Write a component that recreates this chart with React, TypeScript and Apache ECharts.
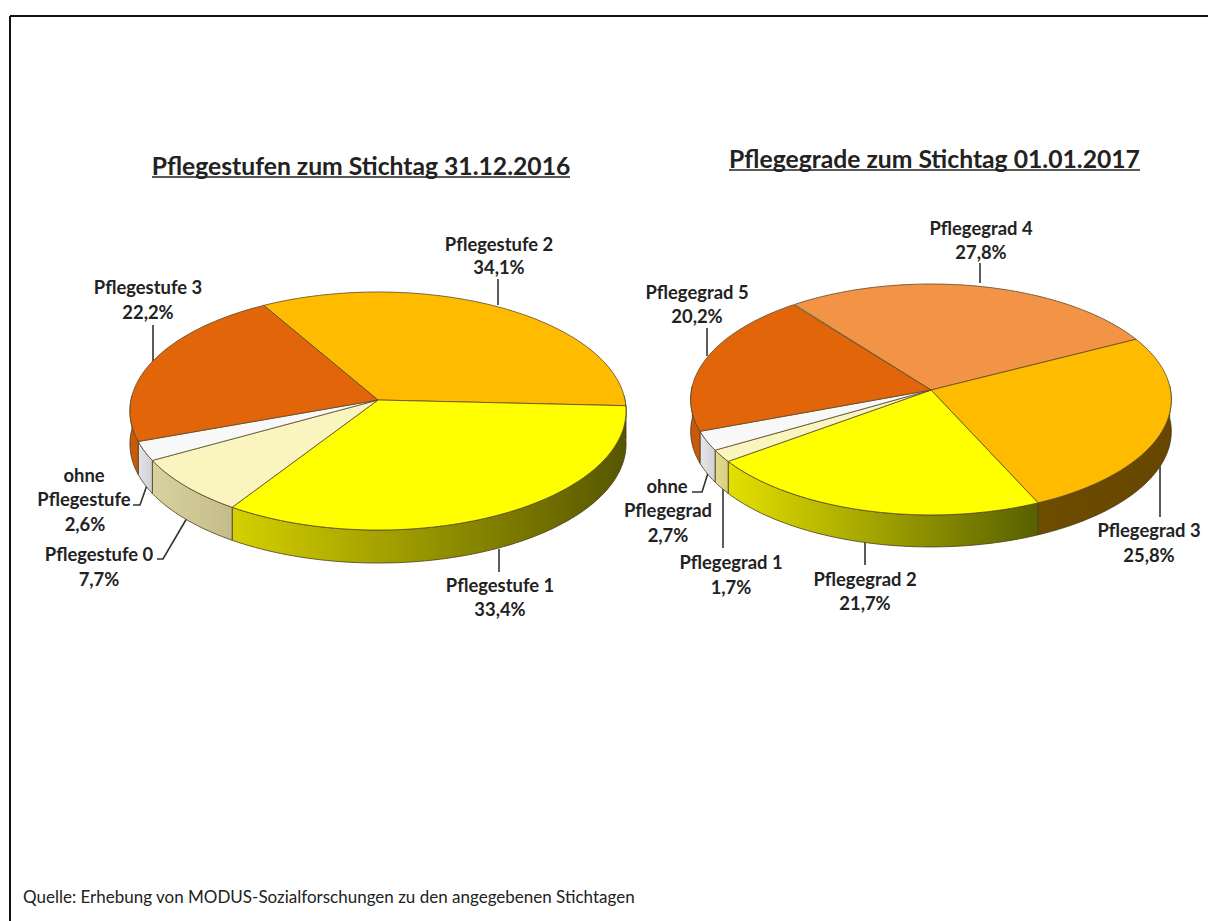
import React, { useEffect, useRef } from "react";
import * as echarts from "echarts";

const stufenValues = [34.1, 33.4, 7.7, 2.6, 22.2];
const gradeValues = [27.8, 25.8, 21.7, 1.7, 2.7, 20.2];
const stufenTopColors = ["#FFBB00", "#FFFF00", "#FAF5BE", "#F8F8F8", "#E2650A"];
const gradeTopColors = ["#F29345", "#FFBB00", "#FFFF00", "#FAF5BE", "#F8F8F8", "#E2650A"];
const stufenWallColors = [
  ["#6b4e00", "#6b4e00"],
  ["#D4D000", "#565600"],
  ["#D8D2A0", "#C4BC88"],
  ["#E4E4E8", "#CFCFD4"],
  ["#C85A0A", "#C85A0A"],
];
const gradeWallColors = [
  ["#8a5020", "#8a5020"],
  ["#6E4C00", "#664600"],
  ["#E4E000", "#586000"],
  ["#E2DA8E", "#D8D07E"],
  ["#E6E6EA", "#D2D2D6"],
  ["#C85A0A", "#C85A0A"],
];

const stufenGeometry = { hubX: 378, hubY: 400, rx: 247, ry: 118, persp: 0.0925, depth: 33, start: -30 };
const gradeGeometry = { hubX: 931, hubY: 390, rx: 239.5, ry: 114.7, persp: 0.082, depth: 32, start: -37.4 };

const titleStufen = "Pflegestufen zum Stichtag 31.12.2016";
const titleGrade = "Pflegegrade zum Stichtag 01.01.2017";
const sourceNote = "Quelle: Erhebung von MODUS-Sozialforschungen zu den angegebenen Stichtagen";

const pct = (v: number) => v.toFixed(1).replace(".", ",") + "%";

// text lines: [text, centre x, centre y]
const stufenLabels: [string, number, number][] = [
  ["Pflegestufe 2", 499, 244], [pct(stufenValues[0]), 499, 267],
  ["Pflegestufe 1", 500, 585], [pct(stufenValues[1]), 500, 609],
  ["Pflegestufe 0", 99, 554], [pct(stufenValues[2]), 99, 579],
  ["ohne", 84, 475], ["Pflegestufe", 84, 499], [pct(stufenValues[3]), 85, 524],
  ["Pflegestufe 3", 148, 287], [pct(stufenValues[4]), 148, 312],
];
const gradeLabels: [string, number, number][] = [
  ["Pflegegrad 4", 981, 228], [pct(gradeValues[0]), 981, 252],
  ["Pflegegrad 3", 1149, 530], [pct(gradeValues[1]), 1149, 555],
  ["Pflegegrad 2", 865, 579], [pct(gradeValues[2]), 865, 603],
  ["Pflegegrad 1", 731, 562], [pct(gradeValues[3]), 731, 587],
  ["ohne", 667, 486], ["Pflegegrad", 668, 510], [pct(gradeValues[4]), 668, 535],
  ["Pflegegrad 5", 697, 292], [pct(gradeValues[5]), 697, 316],
];
const leaders: number[][][] = [
  [[498, 279], [498, 305]],
  [[499, 549], [499, 572]],
  [[153, 325], [153, 361]],
  [[133, 505], [140, 505], [147, 485]],
  [[157, 559], [163, 559], [187, 518]],
  [[707, 328], [707, 356]],
  [[692, 492], [702, 492], [708, 473]],
  [[723, 487], [723, 548]],
  [[865, 540], [865, 565]],
  [[1160, 458], [1160, 517]],
  [[980, 263], [980, 283]],
];

type Geo = typeof stufenGeometry;

function project(g: Geo, deg: number, drop = 0): number[] {
  const t = (deg * Math.PI) / 180;
  const s = 1 / (1 + g.persp * Math.cos(t));
  return [g.hubX + g.rx * Math.sin(t) * s, g.hubY - g.ry * Math.cos(t) * s + drop];
}

function arc(g: Geo, a: number, b: number, drop = 0): number[][] {
  const n = Math.max(2, Math.ceil(Math.abs(b - a) / 1.5));
  const out: number[][] = [];
  for (let i = 0; i <= n; i++) out.push(project(g, a + ((b - a) * i) / n, drop));
  return out;
}

function pieSeries(values: number[], tops: string[], walls: string[][], g: Geo) {
  let run = 0;
  const rows = values.map((v) => {
    const r = [v, run];
    run += v;
    return r;
  });
  return {
    type: "custom",
    coordinateSystem: "none",
    silent: true,
    data: rows,
    renderItem: (params: any, api: any) => {
      const i = params.dataIndex;
      const a = g.start + (api.value(1) / 100) * 360;
      const b = a + (api.value(0) / 100) * 360;
      const children: any[] = [];
      const wa = Math.max(a, 88);
      const wb = Math.min(b, 272);
      if (wb > wa) {
        const upper = arc(g, wa, wb);
        const lower = arc(g, wa, wb, g.depth).reverse();
        children.push({
          type: "polygon",
          z2: 1,
          shape: { points: upper.concat(lower) },
          style: {
            fill: new echarts.graphic.LinearGradient(0, 0, 1, 0, [
              { offset: 0, color: walls[i][0] },
              { offset: 1, color: walls[i][1] },
            ]),
            stroke: "#4a3c1c",
            lineWidth: 0.8,
          },
        });
      }
      children.push({
        type: "polygon",
        z2: 2,
        shape: { points: [[g.hubX, g.hubY]].concat(arc(g, a, b)) },
        style: { fill: tops[i], stroke: "#5a4a28", lineWidth: 0.8 },
      });
      return { type: "group", children };
    },
  };
}

const ink = "#222222";

function textEl(text: string, x: number, y: number, size: number, weight: string, align = "center") {
  return {
    type: "text",
    x,
    y,
    style: { text, fontFamily: "Lato", fontSize: size, fontWeight: weight, fill: ink, align, verticalAlign: "middle" },
  };
}

function App() {
  const ref = useRef<HTMLDivElement>(null);
  useEffect(() => {
    const chart = echarts.init(ref.current!, null, { renderer: "svg" });
    const labels = stufenLabels.concat(gradeLabels).map(([t, x, y]) => textEl(t, x, y, 18.4, "bold"));
    const lines = leaders.map((points) => ({
      type: "polyline",
      shape: { points },
      style: { stroke: "#333333", lineWidth: 1.6, fill: "none" },
    }));
    chart.setOption({
      animation: false,
      backgroundColor: "#ffffff",
      graphic: [
        { type: "line", shape: { x1: 10, y1: 16, x2: 1208, y2: 16 }, style: { stroke: "#111111", lineWidth: 2 } },
        { type: "line", shape: { x1: 10, y1: 16, x2: 10, y2: 921 }, style: { stroke: "#111111", lineWidth: 2 } },
        textEl(titleStufen, 361, 165, 24.7, "bold"),
        textEl(titleGrade, 934.5, 158, 24.7, "bold"),
        { type: "line", shape: { x1: 152, y1: 177, x2: 570, y2: 177 }, style: { stroke: ink, lineWidth: 1.6 } },
        { type: "line", shape: { x1: 729, y1: 170, x2: 1140, y2: 170 }, style: { stroke: ink, lineWidth: 1.6 } },
        textEl(sourceNote, 23, 896, 17, "normal", "left"),
        ...lines,
        ...labels,
      ],
      series: [
        pieSeries(stufenValues, stufenTopColors, stufenWallColors, stufenGeometry),
        pieSeries(gradeValues, gradeTopColors, gradeWallColors, gradeGeometry),
      ],
    });
    return () => chart.dispose();
  }, []);
  return <div ref={ref} style={{ position: "absolute", left: 0, top: 0, width: 1208, height: 921 }} />;
}

export default App;
